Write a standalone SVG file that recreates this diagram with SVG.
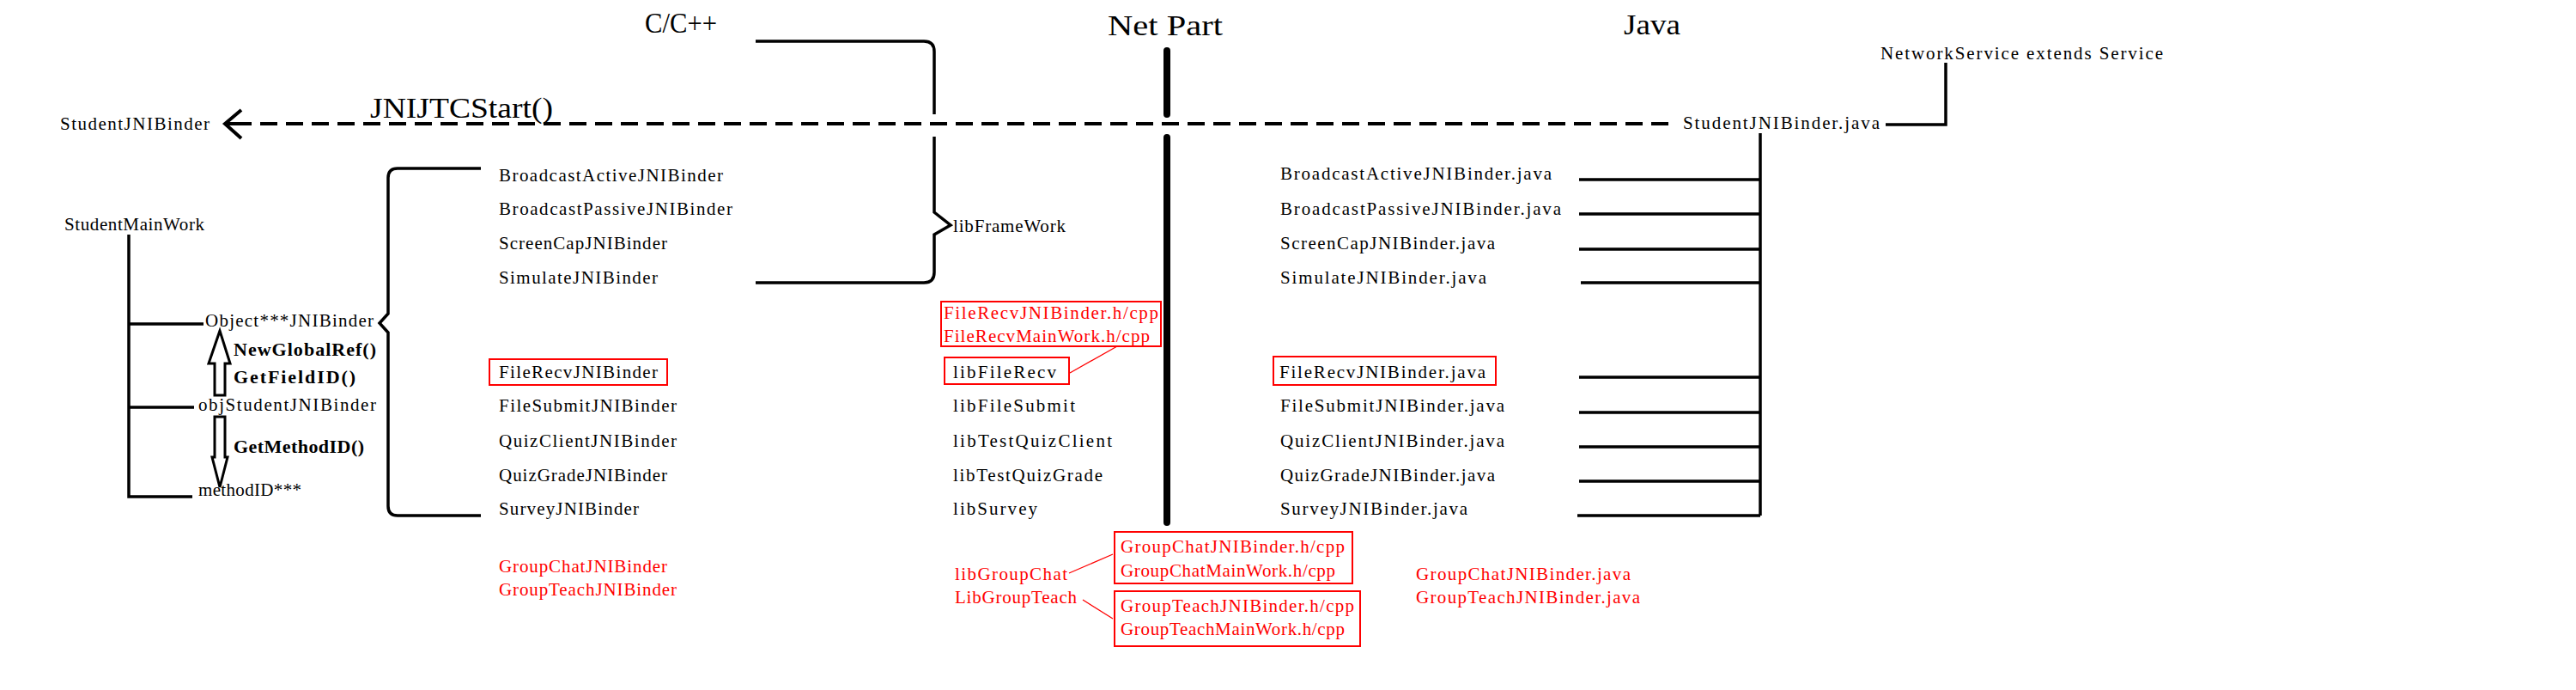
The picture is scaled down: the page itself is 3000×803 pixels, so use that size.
<svg xmlns="http://www.w3.org/2000/svg" width="3000" height="803" viewBox="0 0 3000 803">
<style>
.t{font-family:"Liberation Serif","Noto Sans CJK SC",serif;font-size:21px;fill:#000}
.r{fill:#ff0000}
.b{font-weight:bold;font-size:22px}
.h{font-family:"Liberation Serif",serif;font-size:34px;fill:#000}
.ln{fill:none;stroke:#000;stroke-width:3.5}
.rb{fill:none;stroke:#ff0000;stroke-width:2}
.rl{fill:none;stroke:#ff0000;stroke-width:1.3}
</style>
<rect width="3000" height="803" fill="#fff"/>
<g id="headings">
<text class="h" x="751" y="38" textLength="84" lengthAdjust="spacingAndGlyphs">C/C++</text>
<text class="h" x="1290" y="41" textLength="134" lengthAdjust="spacingAndGlyphs">Net Part</text>
<text class="h" x="1891" y="40" textLength="66" lengthAdjust="spacingAndGlyphs">Java</text>
</g>
<g id="connectors">
<path class="ln" d="M880,48 H1076 Q1088,48 1088,60 V133 M1088,159 V247 L1107,262 L1088,273 V317 Q1088,329 1076,329 H880"/>
<path class="ln" d="M560,196 H463 Q452,196 452,207 V365 L442,376 L452,387 V589 Q452,600 463,600 H560"/>
<path d="M1359,59 V133 M1359,160 V608" fill="none" stroke="#000" stroke-width="8" stroke-linecap="round"/>
<path d="M1943,144 H268" fill="none" stroke="#000" stroke-width="4" stroke-dasharray="20 10"/>
<polyline points="281,128 262,144 281,161" fill="none" stroke="#000" stroke-width="4"/>
<line x1="262" y1="144" x2="275" y2="144" stroke="#000" stroke-width="4"/>
<path class="ln" d="M150,273 V578 H224 M150,377 H237 M150,474 H226"/>
<path d="M256,385 L268,423 L262,423 L262,460 L250,460 L250,423 L243,423 Z" fill="#fff" stroke="#000" stroke-width="3"/>
<path d="M250,485 H262 V532 L265,532 L256,567 L247,532 L250,532 Z" fill="#fff" stroke="#000" stroke-width="3"/>
<path class="ln" d="M2050,155 V600 M1839,209 H2050 M1839,249 H2050 M1839,290 H2050 M1841,329 H2050 M1839,439 H2050 M1839,480 H2050 M1839,520 H2050 M1839,560 H2050 M1837,600 H2050"/>
<path class="ln" d="M2196,145 H2266 V73"/>
<path class="rl" d="M1301,403 L1246,434 M1245,667 L1296,645 M1261,698 L1296,720"/>
</g>
<g id="jnijtcstart"><text class="h" x="431" y="137" font-size="35" textLength="213" lengthAdjust="spacingAndGlyphs">JNIJTCStart()</text></g>
<g id="studentjnibinder"><text class="t" x="70" y="151" textLength="174">StudentJNIBinder</text></g>
<g id="studentmainwork"><text class="t" x="75" y="268" textLength="163">StudentMainWork</text></g>
<g id="objectjnibinder"><text class="t" x="239" y="380" textLength="196">Object***JNIBinder</text></g>
<g id="objstudentjnibinder"><text class="t" x="231" y="478" textLength="207">objStudentJNIBinder</text></g>
<g id="methodid"><text class="t" x="231" y="577" textLength="120">methodID***</text></g>
<g id="jnicalls">
<text class="t b" x="272" y="414" textLength="166">NewGlobalRef()</text>
<text class="t b" x="272" y="446" textLength="142">GetFieldID()</text>
<text class="t b" x="272" y="527" textLength="152">GetMethodID()</text>
</g>
<g id="c-binders">
<text class="t" x="581" y="211" textLength="261">BroadcastActiveJNIBinder</text>
<text class="t" x="581" y="250" textLength="272">BroadcastPassiveJNIBinder</text>
<text class="t" x="581" y="290" textLength="196">ScreenCapJNIBinder</text>
<text class="t" x="581" y="330" textLength="185">SimulateJNIBinder</text>
<rect class="rb" x="570" y="418" width="207" height="30"/>
<text class="t" x="581" y="440" textLength="185">FileRecvJNIBinder</text>
<text class="t" x="581" y="479" textLength="207">FileSubmitJNIBinder</text>
<text class="t" x="581" y="520" textLength="207">QuizClientJNIBinder</text>
<text class="t" x="581" y="560" textLength="196">QuizGradeJNIBinder</text>
<text class="t" x="581" y="599" textLength="163">SurveyJNIBinder</text>
<text class="t r" x="581" y="666" textLength="196">GroupChatJNIBinder</text>
<text class="t r" x="581" y="693" textLength="207">GroupTeachJNIBinder</text>
</g>
<g id="libs">
<text class="t" x="1110" y="270" textLength="131">libFrameWork</text>
<rect class="rb" x="1096" y="351" width="256" height="52"/>
<text class="t r" x="1099" y="371" textLength="250">FileRecvJNIBinder.h/cpp</text>
<text class="t r" x="1099" y="398" textLength="240">FileRecvMainWork.h/cpp</text>
<rect class="rb" x="1100" y="416" width="145" height="31"/>
<text class="t" x="1110" y="440" textLength="120">libFileRecv</text>
<text class="t" x="1110" y="479" textLength="142">libFileSubmit</text>
<text class="t" x="1110" y="520" textLength="185">libTestQuizClient</text>
<text class="t" x="1110" y="560" textLength="174">libTestQuizGrade</text>
<text class="t" x="1110" y="599" textLength="98">libSurvey</text>
<text class="t r" x="1112" y="675" textLength="131">libGroupChat</text>
<text class="t r" x="1112" y="702" textLength="142">LibGroupTeach</text>
<rect class="rb" x="1298" y="619" width="277" height="60"/>
<text class="t r" x="1305" y="643" textLength="261">GroupChatJNIBinder.h/cpp</text>
<text class="t r" x="1305" y="671" textLength="250">GroupChatMainWork.h/cpp</text>
<rect class="rb" x="1298" y="688" width="286" height="64"/>
<text class="t r" x="1305" y="712" textLength="272">GroupTeachJNIBinder.h/cpp</text>
<text class="t r" x="1305" y="739" textLength="261">GroupTeachMainWork.h/cpp</text>
</g>
<g id="java-binders">
<text class="t" x="1491" y="209" textLength="316">BroadcastActiveJNIBinder.java</text>
<text class="t" x="1491" y="250" textLength="327">BroadcastPassiveJNIBinder.java</text>
<text class="t" x="1491" y="290" textLength="250">ScreenCapJNIBinder.java</text>
<text class="t" x="1491" y="330" textLength="240">SimulateJNIBinder.java</text>
<rect class="rb" x="1483" y="415" width="259" height="33"/>
<text class="t" x="1490" y="440" textLength="240">FileRecvJNIBinder.java</text>
<text class="t" x="1491" y="479" textLength="261">FileSubmitJNIBinder.java</text>
<text class="t" x="1491" y="520" textLength="261">QuizClientJNIBinder.java</text>
<text class="t" x="1491" y="560" textLength="250">QuizGradeJNIBinder.java</text>
<text class="t" x="1491" y="599" textLength="218">SurveyJNIBinder.java</text>
<text class="t r" x="1649" y="675" textLength="250">GroupChatJNIBinder.java</text>
<text class="t r" x="1649" y="702" textLength="261">GroupTeachJNIBinder.java</text>
</g>
<g id="studentjnibinder-java"><text class="t" x="1960" y="150" textLength="229">StudentJNIBinder.java</text></g>
<g id="networkservice"><text class="t" x="2190" y="69" textLength="329">NetworkService extends Service</text></g>
</svg>
